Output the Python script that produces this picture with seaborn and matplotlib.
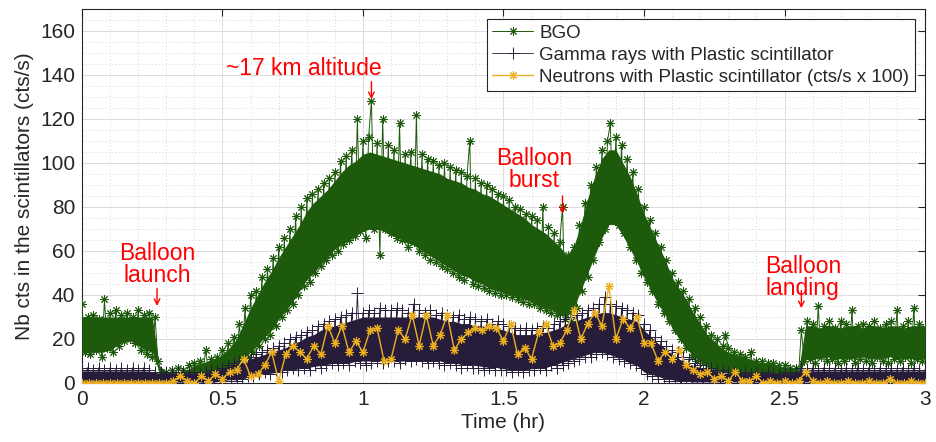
import numpy as np
import pandas as pd
import matplotlib
matplotlib.use("Agg")
import matplotlib.pyplot as plt
import seaborn as sns
from matplotlib.ticker import MultipleLocator

# ---------------- data ----------------
bgo_step = 0.01  # hr between BGO samples (sample trace)
bgo_counts = [
    36, 14, 30, 13, 31, 15, 29, 12, 38, 16,      # 0.00
    32, 14, 33, 17, 31, 19, 32, 20, 30, 18,      # 0.10
    33, 15, 31, 13, 32, 12, 30, 10, 5, 2,        # 0.20
    5, 2, 6, 3, 7, 2, 6, 3, 8, 3,                # 0.30
    9, 3, 10, 4, 15, 5, 11, 4, 12, 6,            # 0.40
    15, 6, 18, 7, 21, 9, 27, 11, 34, 12,         # 0.50
    40, 14, 42, 17, 48, 20, 52, 22, 57, 26,      # 0.60
    62, 30, 66, 33, 70, 36, 76, 40, 80, 44,      # 0.70
    84, 46, 86, 50, 88, 53, 91, 56, 93, 58,      # 0.80
    96, 60, 101, 63, 103, 65, 106, 67, 120, 69,  # 0.90
    110, 66, 112, 128, 70, 109, 58, 120, 70, 108,  # 1.00
    68, 106, 66, 118, 65, 104, 62, 105, 64, 122,   # 1.10
    60, 104, 58, 102, 56, 101, 55, 99, 53, 100,    # 1.20
    52, 98, 50, 97, 48, 96, 47, 94, 110, 45,       # 1.30
    93, 44, 91, 43, 90, 42, 88, 41, 86, 40,        # 1.40
    85, 40, 83, 39, 80, 38, 79, 37, 77, 36,        # 1.50
    76, 36, 74, 34, 80, 33, 71, 32, 68, 31,        # 1.60
    64, 80, 29, 58, 28, 62, 34, 72, 42, 82,        # 1.70
    48, 90, 56, 98, 64, 106, 70, 110, 118, 76,     # 1.80
    112, 72, 108, 68, 102, 62, 96, 56, 88, 50,     # 1.90
    80, 46, 74, 42, 68, 36, 62, 32, 56, 28,        # 2.00
    50, 24, 46, 20, 42, 16, 38, 12, 34, 10,        # 2.10
    30, 9, 26, 7, 22, 6, 20, 5, 17, 22,            # 2.20
    16, 4, 14, 4, 13, 4, 12, 3, 14, 4,             # 2.30
    10, 3, 10, 3, 9, 3, 9, 3, 8, 3,                # 2.40
    8, 2, 7, 3, 7, 4, 24, 10, 28, 11,              # 2.50
    27, 9, 35, 12, 26, 10, 28, 11, 25, 9,          # 2.60
    28, 10, 27, 12, 33, 9, 26, 11, 27, 10,         # 2.70
    26, 9, 28, 12, 25, 10, 27, 9, 28, 11,          # 2.80
    33, 10, 26, 12, 28, 9, 34, 11, 27, 10,         # 2.90
    25,                                            # 3.00
]

core_step = 0.025  # hr between dense-band envelope readings
bgo_core_low = [
    14, 14, 14, 14, 15, 17, 19, 19, 17, 15,   # 0.000
    14, 5, 3, 3, 3, 3, 4, 4, 5, 5,            # 0.250
    6, 7, 9, 11, 14, 17, 21, 24, 29, 33,      # 0.500
    37, 42, 47, 50, 54, 57, 61, 63, 65, 67,   # 0.750
    69, 70, 70, 69, 67, 66, 64, 63, 61, 59,   # 1.000
    57, 55, 53, 51, 49, 48, 46, 45, 43, 42,   # 1.250
    41, 40, 39, 38, 37, 35, 34, 33, 31, 30,   # 1.500
    34, 42, 50, 58, 66, 72, 72, 67, 61, 55,   # 1.750
    48, 42, 36, 31, 25, 20, 16, 12, 10, 8,    # 2.000
    6, 5, 5, 4, 4, 4, 3, 3, 3, 3,             # 2.250
    3, 3, 3, 11, 11, 11, 12, 11, 11, 11,      # 2.500
    11, 12, 11, 11, 11, 12, 11, 11, 11, 11,   # 2.750
    11,                                       # 3.000
]
bgo_core_high = [
    30, 30, 30, 30, 30, 30, 30, 30, 30, 30,
    30, 8, 5, 5, 5, 6, 8, 9, 10, 11,
    13, 16, 20, 27, 34, 40, 46, 51, 57, 62,
    67, 72, 78, 82, 85, 88, 92, 96, 99, 101,
    104, 105, 104, 103, 102, 101, 100, 99, 98, 97,
    96, 95, 93, 92, 91, 89, 88, 86, 85, 83,
    81, 79, 77, 75, 72, 70, 68, 65, 62, 58,
    62, 72, 84, 94, 102, 106, 106, 100, 94, 86,
    77, 70, 63, 56, 48, 43, 38, 32, 27, 22,
    19, 16, 14, 13, 12, 11, 10, 9, 9, 8,
    7, 7, 6, 26, 26, 25, 26, 26, 25, 26,
    26, 25, 26, 26, 25, 26, 26, 25, 26, 26,
    26,
]

gamma_step = 0.01
gamma_counts = [
    6, 1, 7, 0, 6, 2, 7, 1, 6, 0,
    7, 1, 6, 0, 7, 2, 6, 1, 7, 0,
    6, 1, 7, 0, 6, 1, 5, 0, 5, 1,
    5, 0, 4, 1, 5, 0, 4, 1, 5, 0,
    5, 1, 4, 0, 5, 1, 6, 0, 6, 1,
    7, 1, 8, 2, 9, 1, 10, 2, 11, 3,
    12, 3, 13, 4, 14, 5, 15, 4, 16, 6,
    17, 5, 18, 6, 20, 7, 21, 6, 22, 7,
    23, 6, 24, 8, 26, 7, 27, 8, 28, 9,
    29, 8, 30, 9, 31, 8, 32, 10, 41, 9,
    32, 8, 33, 9, 32, 10, 34, 9, 33, 10,
    33, 10, 34, 9, 33, 11, 32, 10, 36, 11,
    33, 10, 32, 9, 33, 10, 31, 9, 32, 8,
    31, 9, 30, 8, 31, 7, 29, 8, 30, 7,
    29, 7, 28, 6, 29, 7, 27, 6, 28, 6,
    27, 6, 26, 5, 25, 6, 24, 5, 25, 6,
    24, 6, 25, 7, 26, 6, 25, 8, 27, 7,
    28, 8, 29, 9, 30, 10, 31, 11, 32, 12,
    33, 12, 34, 13, 36, 14, 39, 13, 36, 12,
    35, 11, 34, 10, 33, 9, 32, 8, 31, 7,
    27, 4, 24, 3, 21, 2, 19, 2, 17, 1,
    15, 1, 14, 0, 12, 1, 11, 0, 9, 0,
    8, 0, 7, 1, 7, 0, 6, 1, 6, 0,
    5, 0, 5, 1, 4, 0, 5, 1, 4, 0,
    5, 0, 4, 1, 5, 0, 4, 1, 4, 0,
    5, 1, 4, 0, 5, 1, 7, 0, 6, 1,
    7, 0, 6, 1, 7, 0, 6, 1, 7, 0,
    6, 1, 7, 0, 6, 1, 7, 0, 6, 1,
    7, 0, 6, 1, 7, 0, 6, 1, 7, 0,
    6, 1, 7, 0, 6, 1, 7, 0, 6, 1,
    6,
]
gamma_core_low = [
    0.5, 0.5, 0.5, 0.5, 0.5, 0.5, 0.5, 0.5, 0.5, 0.5,
    0.5, 0.5, 0.5, 0.5, 0.5, 0.5, 0.5, 0.5, 0.5, 0.5,
    1, 1.5, 1.5, 2, 3, 3.5, 4, 4.5, 5, 6,
    6, 6.5, 7, 7.5, 8, 8.5, 9, 9, 9, 10,
    10, 10, 10, 10, 10, 10, 10, 10, 10, 10,
    10, 10, 9, 9, 8.5, 8, 8, 7.5, 7, 7,
    6.5, 6, 6, 6, 6.5, 7, 7, 8, 9, 10,
    11, 12, 13, 14, 14, 13, 12, 11, 9, 8,
    5, 4, 3, 2, 1.5, 1, 1, 0.5, 0.5, 0.5,
    0.5, 0.5, 0.5, 0.5, 0.5, 0.5, 0.5, 0.5, 0.5, 0.5,
    0.5, 0.5, 0.5, 0.5, 0.5, 0.5, 0.5, 0.5, 0.5, 0.5,
    0.5, 0.5, 0.5, 0.5, 0.5, 0.5, 0.5, 0.5, 0.5, 0.5,
    0.5,
]
gamma_core_high = [
    5.5, 5.5, 5.5, 5.5, 5.5, 5.5, 5.5, 5.5, 5.5, 5.5,
    5, 4.5, 4.5, 4.5, 4.5, 4.5, 4.5, 4.5, 4.5, 5,
    7, 7.5, 8.5, 9.5, 11, 12, 13, 14, 15, 16,
    18, 19, 21, 22, 24, 25, 26, 27, 28, 29,
    30, 30, 30, 30, 30, 30, 30, 30, 30, 30,
    30, 29, 28, 28, 27, 27, 26, 26, 25, 25,
    24, 23, 22, 22, 22, 23, 23, 24, 25, 27,
    28, 29, 30, 31, 32, 32, 31, 30, 29, 28,
    24, 21, 18, 16, 13, 11, 9, 8, 7, 6,
    5.5, 4.5, 4.5, 4.5, 4.5, 4.5, 4.5, 4.5, 4.5, 4.5,
    4.5, 4.5, 5, 5.5, 5.5, 5.5, 5.5, 5.5, 5.5, 5.5,
    5.5, 5.5, 5.5, 5.5, 5.5, 5.5, 5.5, 5.5, 5.5, 5.5,
    5.5,
]

neutron_step = 0.025  # (cts/s x 100)
neutron_counts = [
    0, 0, 0, 0, 0, 0, 0, 0, 0, 0,          # 0.000
    0, 0, 0, 1, 3, 1, 0, 3, 1, 4,          # 0.250
    2, 5, 6, 11, 3, 4, 8, 14, 1, 13,       # 0.500
    17, 14, 11, 17, 13, 26, 18, 26, 14, 19,  # 0.750
    14, 24, 25, 10, 11, 24, 20, 31, 17, 31,  # 1.000
    17, 22, 31, 15, 20, 23, 25, 24, 26, 25,  # 1.250
    19, 27, 13, 16, 11, 23, 27, 17, 18, 24,  # 1.500
    33, 20, 27, 32, 26, 44, 20, 29, 25, 30,  # 1.750
    18, 18, 10, 14, 11, 15, 8, 6, 4, 5,      # 2.000
    2, 3, 1, 5, 1, 1, 3, 0, 1, 0,            # 2.250
    1, 0, 1, 5, 1, 0, 1, 0, 0, 1,            # 2.500
    0, 0, 1, 0, 0, 2, 0, 0, 1, 0,            # 2.750
    0,                                       # 3.000
]

series_labels = ["BGO", "Gamma rays with Plastic scintillator",
                 "Neutrons with Plastic scintillator (cts/s x 100)"]
x_ticks = [0, 0.5, 1, 1.5, 2, 2.5, 3]
x_tick_labels = ["0", "0.5", "1", "1.5", "2", "2.5", "3"]
y_ticks = [0, 20, 40, 60, 80, 100, 120, 140, 160]
x_label = "Time (hr)"
y_label = "Nb cts in the scintillators (cts/s)"

notes = ["~17 km altitude", "Balloon\nlaunch", "Balloon\nburst", "Balloon\nlanding"]
note_xy = [(0.79, 143), (0.267, 54), (1.61, 97), (2.565, 48)]
arrow_x = [1.03, 0.267, 1.71, 2.56]
arrow_top = [137, 43, 85, 42]
arrow_tip = [129, 35, 77, 34]

# ---------------- figure ----------------
sns.set_style("white")
plt.rcParams["font.family"] = ["Liberation Sans", "DejaVu Sans"]

green = "#1d5a0c"
dark = "#271d3a"
gold = "#EDB120"

fig = plt.figure(figsize=(9.37, 4.42), dpi=100)
ax = fig.add_axes([0.0875, 0.1335, 0.8997, 0.8462])

df_bgo = pd.DataFrame({"t": np.arange(len(bgo_counts)) * bgo_step, "v": bgo_counts})
df_gam = pd.DataFrame({"t": np.arange(len(gamma_counts)) * gamma_step, "v": gamma_counts})
df_neu = pd.DataFrame({"t": np.arange(len(neutron_counts)) * neutron_step, "v": neutron_counts})
t_core = np.arange(len(bgo_core_low)) * core_step

star = (8, 2, 0)
# BGO: dense band + sample trace
ax.fill_between(t_core, bgo_core_low, bgo_core_high, color=green, lw=0, zorder=3)
sns.lineplot(data=df_bgo, x="t", y="v", ax=ax, color=green, linewidth=0.7,
             marker=star, markersize=6, markeredgecolor=green, markeredgewidth=0.7,
             estimator=None, sort=False, label=series_labels[0], zorder=3)
# Gamma: dense band + sample trace
ax.fill_between(t_core, gamma_core_low, gamma_core_high, color=dark, lw=0, zorder=4)
sns.lineplot(data=df_gam, x="t", y="v", ax=ax, color=dark, linewidth=0.6,
             marker="+", markersize=8, markeredgecolor=dark, markeredgewidth=0.7,
             estimator=None, sort=False, label=series_labels[1], zorder=4)
sns.lineplot(data=df_neu, x="t", y="v", ax=ax, color=gold, linewidth=1.0,
             marker=star, markersize=6, markeredgecolor=gold, markeredgewidth=0.8,
             estimator=None, sort=False, label=series_labels[2], zorder=5)

ax.set_xlim(0, 3)
ax.set_ylim(0, 170)
ax.set_xticks(x_ticks)
ax.set_xticklabels(x_tick_labels)
ax.set_yticks(y_ticks)
ax.xaxis.set_minor_locator(MultipleLocator(0.1))
ax.yaxis.set_minor_locator(MultipleLocator(5))
ax.grid(which="major", color="#dcdcdc", linewidth=0.7, linestyle="-", zorder=0)
ax.grid(which="minor", color="#c8c8c8", linewidth=0.6, linestyle=(0, (1, 3)), zorder=0)
ax.set_axisbelow(True)
ax.tick_params(which="major", direction="in", length=5, width=0.8, top=True, right=True,
               labelsize=15, colors="#262626", pad=5)
ax.tick_params(which="minor", length=0)
for s in ax.spines.values():
    s.set_color("#262626")
    s.set_linewidth(0.8)

ax.set_xlabel(x_label, fontsize=15, color="#262626", labelpad=3)
ax.set_ylabel(y_label, fontsize=15, color="#262626", labelpad=4)

for txt, (tx, ty) in zip(notes, note_xy):
    ax.text(tx, ty, txt, color="#ff0000", fontsize=16.5, ha="center", va="center",
            linespacing=0.95, zorder=6)
for xa, y0, y1 in zip(arrow_x, arrow_top, arrow_tip):
    ax.annotate("", xy=(xa, y1), xytext=(xa, y0),
                arrowprops=dict(arrowstyle="->", color="#ff0000", lw=1.0,
                                shrinkA=0, shrinkB=0, mutation_scale=10), zorder=6)

leg = ax.legend(loc="upper right", fontsize=13.5, frameon=True, fancybox=False,
                framealpha=1, edgecolor="#262626", borderaxespad=0.55,
                handlelength=2.2, handletextpad=0.3, labelspacing=0.25,
                borderpad=0.3)
leg.get_frame().set_linewidth(0.8)
leg.set_zorder(10)

fig.savefig("out.png", dpi=100)
